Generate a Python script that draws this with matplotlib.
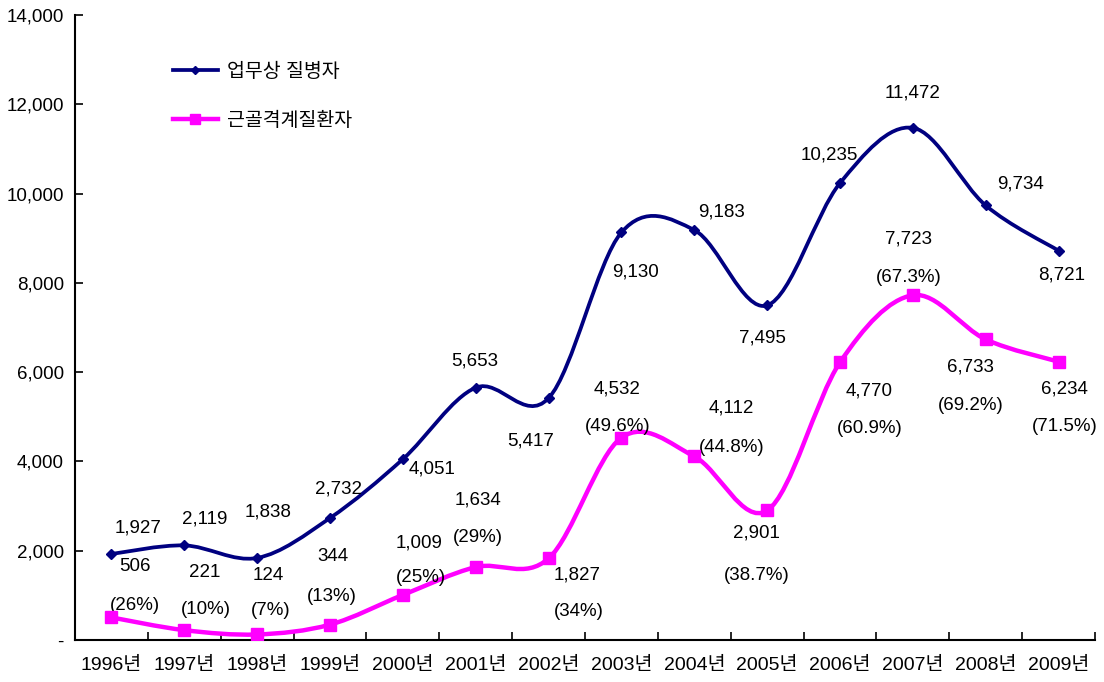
import matplotlib
matplotlib.use('Agg')
import matplotlib.pyplot as plt
from matplotlib.path import Path
from matplotlib.patches import PathPatch
from matplotlib.lines import Line2D

plt.rcParams['font.family'] = ['Liberation Sans', 'Noto Sans CJK KR', 'DejaVu Sans']

# ---------------- data ----------------
years = ['1996년', '1997년', '1998년', '1999년', '2000년', '2001년', '2002년',
         '2003년', '2004년', '2005년', '2006년', '2007년', '2008년', '2009년']
occupational = [1927, 2119, 1838, 2732, 4051, 5653, 5417, 9130, 9183, 7495,
                10235, 11472, 9734, 8721]
musculoskeletal = [506, 221, 124, 344, 1009, 1634, 1827, 4532, 4112, 2901,
                   6220, 7723, 6733, 6234]
occ_labels = ['1,927', '2,119', '1,838', '2,732', '4,051', '5,653', '5,417',
              '9,130', '9,183', '7,495', '10,235', '11,472', '9,734', '8,721']
mus_labels = ['506', '221', '124', '344', '1,009', '1,634', '1,827',
              '4,532', '4,112', '2,901', '4,770', '7,723', '6,733', '6,234']
mus_share = ['(26%)', '(10%)', '(7%)', '(13%)', '(25%)', '(29%)', '(34%)',
             '(49.6%)', '(44.8%)', '(38.7%)', '(60.9%)', '(67.3%)', '(69.2%)', '(71.5%)']
series_names = ['업무상 질병자', '근골격계질환자']
y_ticks = [0, 2000, 4000, 6000, 8000, 10000, 12000, 14000]
y_tick_labels = ['-', '2,000', '4,000', '6,000', '8,000', '10,000', '12,000', '14,000']

# label offsets (pixels, +down) relative to each point
occ_off = [(27, -26), (20, -26), (11, -46), (8, -29), (29, 10), (-1, -27), (-18, 43),
           (14, 40), (27, -18), (-5, 33), (-11, -28), (0, -35), (35, -21), (3, 24)]
mus_val_off = [(24, -51), (20, -58), (11, -59), (3, -68), (16, -52), (2, -67), (29, 17),
               (-4, -49), (37, -48), (-11, 23), (29, 29), (-4, -56), (-15, 28), (6, 27)]
mus_pct_off = [(24, -12), (22, -21), (14, -24), (2, -28), (18, -17), (2, -30), (30, 53),
               (-4, -11), (37, -9), (-10, 65), (30, 66), (-4, -18), (-15, 66), (6, 65)]

NAVY = '#000080'
MAGENTA = '#FF00FF'
FS = 13.5


def smooth_path(xs, ys):
    n = len(xs)
    verts = [(xs[0], ys[0])]
    codes = [Path.MOVETO]
    for i in range(n - 1):
        xp, yp = (xs[i - 1], ys[i - 1]) if i > 0 else (xs[i], ys[i])
        xn, yn = (xs[i + 2], ys[i + 2]) if i + 2 < n else (xs[i + 1], ys[i + 1])
        c1 = (xs[i] + (xs[i + 1] - xp) / 6.0, ys[i] + (ys[i + 1] - yp) / 6.0)
        c2 = (xs[i + 1] - (xn - xs[i]) / 6.0, ys[i + 1] - (yn - ys[i]) / 6.0)
        verts += [c1, c2, (xs[i + 1], ys[i + 1])]
        codes += [Path.CURVE4] * 3
    return Path(verts, codes)


fig = plt.figure(figsize=(11.04, 6.82), dpi=100)
ax = fig.add_axes([75 / 1104, 42 / 682, 1020 / 1104, 625 / 682])

x = list(range(len(years)))

ax.add_patch(PathPatch(smooth_path(x, occupational), facecolor='none',
                       edgecolor=NAVY, lw=2.7, capstyle='round', joinstyle='round', zorder=3))
ax.add_patch(PathPatch(smooth_path(x, musculoskeletal), facecolor='none',
                       edgecolor=MAGENTA, lw=3.2, capstyle='round', joinstyle='round', zorder=3))
ax.plot(x, occupational, linestyle='none', marker='D', ms=5, color=NAVY, zorder=4)
ax.plot(x, musculoskeletal, linestyle='none', marker='s', ms=8, color=MAGENTA, zorder=4)

k = 0.72  # px -> pt
for i in x:
    dx, dy = occ_off[i]
    ax.annotate(occ_labels[i], (i, occupational[i]), xytext=(dx * k, -dy * k),
                textcoords='offset points', ha='center', va='center', fontsize=FS)
    dx, dy = mus_val_off[i]
    ax.annotate(mus_labels[i], (i, musculoskeletal[i]), xytext=(dx * k, -dy * k),
                textcoords='offset points', ha='center', va='center', fontsize=FS)
    dx, dy = mus_pct_off[i]
    ax.annotate(mus_share[i], (i, musculoskeletal[i]), xytext=(dx * k, -dy * k),
                textcoords='offset points', ha='center', va='center', fontsize=FS)

ax.set_xlim(-0.5, len(years) - 0.5)
ax.set_ylim(0, 14000)
ax.set_yticks(y_ticks)
ax.set_yticklabels(y_tick_labels, fontsize=FS)
ax.set_xticks(x)
ax.set_xticklabels(years, fontsize=14)
ax.set_xticks([i + 0.5 for i in x], minor=True)
ax.tick_params(axis='x', which='major', length=0, pad=12)
ax.tick_params(axis='x', which='minor', direction='in', length=6, width=1.2)
ax.tick_params(axis='y', direction='in', length=6, width=1.2, pad=8)

for s in ['top', 'right']:
    ax.spines[s].set_visible(False)
for s in ['left', 'bottom']:
    ax.spines[s].set_linewidth(1.5)

handles = [Line2D([], [], color=NAVY, lw=2.7, marker='D', ms=4),
           Line2D([], [], color=MAGENTA, lw=3.2, marker='s', ms=7)]
ax.legend(handles, series_names, loc='upper left', bbox_to_anchor=(0.096, 0.924),
          frameon=False, fontsize=14, labelspacing=1.6, handlelength=2.3,
          handletextpad=0.5, borderpad=0, borderaxespad=0, numpoints=1)

fig.savefig('out.png', dpi=100)
